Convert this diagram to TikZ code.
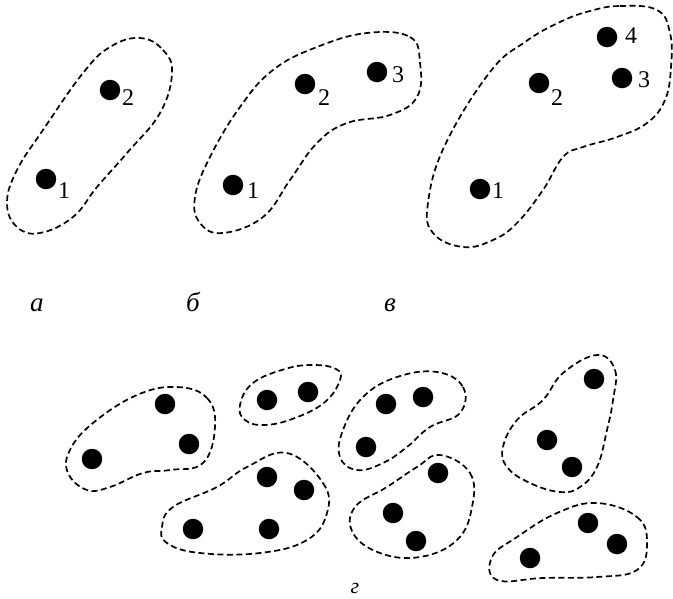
\documentclass[tikz,border=0pt]{standalone}
\usepackage{fontspec}
\setmainfont{Liberation Serif}
\begin{document}
\begin{tikzpicture}[x=1pt,y=-1pt,
  dot/.style={circle,fill=black,inner sep=0pt,minimum size=20.5pt},
  num/.style={anchor=base,inner sep=0pt,font=\fontsize{24}{24}\selectfont},
  captxt/.style={anchor=base,inner sep=0pt,font=\fontsize{27}{27}\selectfont\itshape},
  blob/.style={draw=black,line width=1.7pt,dash pattern=on 6pt off 3.5pt}]
\useasboundingbox (0,0) rectangle (673,598);
% a
\draw[blob] plot[smooth cycle,tension=0.7] coordinates {(140,38) (163,50) (172,73) (160,113) (127,153) (97,187) (73,217) (40,233) (17,227) (7,203) (17,170) (43,130) (83,73) (110,47)};
\node[dot] (a1) at (46,179) {};
\node[dot] (a2) at (110,90) {};
\node[num] (la1) at (64,198) {1};
\node[num] (la2) at (128,105) {2};
\node[captxt] (ca) at (37,311) {а};
% b
\draw[blob] plot[smooth cycle,tension=0.7] coordinates {(367,33) (410,37) (420,63) (417,97) (390,115) (347,123) (317,143) (290,180) (263,217) (223,233) (200,223) (195,197) (210,157) (240,107) (273,70) (317,47)};
\node[dot] (b1) at (233,185) {};
\node[dot] (b2) at (305,84) {};
\node[dot] (b3) at (377,72) {};
\node[num] (lb1) at (253,198) {1};
\node[num] (lb2) at (324,105) {2};
\node[num] (lb3) at (398,82) {3};
\node[captxt] (cb) at (193,311) {б};
% c
\draw[blob] plot[smooth cycle,tension=0.7] coordinates {(590,11) (620,6) (657,10) (670,33) (671,67) (665,100) (647,123) (617,137) (583,147) (563,157) (543,190) (517,223) (493,240) (463,247) (433,233) (428,203) (445,145) (490,72) (525,42) (560,22)};
\node[dot] (c1) at (480,189) {};
\node[dot] (c2) at (539,83) {};
\node[dot] (c3) at (622,78) {};
\node[dot] (c4) at (607,37) {};
\node[num] (lc1) at (498,198) {1};
\node[num] (lc2) at (557,105) {2};
\node[num] (lc3) at (644,87) {3};
\node[num] (lc4) at (631,43) {4};
\node[captxt] (cc) at (390,311) {в};
% g
\draw[blob] plot[smooth cycle,tension=0.7] coordinates {(177,387) (207,398) (215,427) (203,463) (170,470) (143,473) (110,487) (87,490) (68,473) (70,450) (93,423) (137,395)};
\node[dot] (g11) at (92,459) {};
\node[dot] (g12) at (165,404) {};
\node[dot] (g13) at (189,444) {};
\draw[blob] plot[smooth cycle,tension=0.7] coordinates {(240,405) (253,383) (285,369) (313,365) (336,369) (340,380) (325,402) (295,418) (265,425) (245,420)};
\node[dot] (g21) at (267,400) {};
\node[dot] (g22) at (308,392) {};
\draw[blob] plot[smooth cycle,tension=0.7] coordinates {(287,453) (323,483) (327,513) (307,540) (260,553) (200,553) (167,543) (162,527) (173,507) (217,487) (247,467)};
\node[dot] (g31) at (193,529) {};
\node[dot] (g32) at (267,477) {};
\node[dot] (g33) at (304,490) {};
\node[dot] (g34) at (269,529) {};
\draw[blob] plot[smooth cycle,tension=0.7] coordinates {(437,372) (463,387) (460,413) (430,427) (407,447) (383,463) (357,470) (340,457) (343,430) (363,397) (397,377)};
\node[dot] (g41) at (366,447) {};
\node[dot] (g42) at (386,404) {};
\node[dot] (g43) at (423,397) {};
\draw[blob] plot[smooth cycle,tension=0.7] coordinates {(440,455) (470,473) (472,507) (457,540) (420,557) (380,553) (353,533) (355,507) (387,487) (417,467)};
\node[dot] (g51) at (438,473) {};
\node[dot] (g52) at (393,513) {};
\node[dot] (g53) at (416,541) {};
\draw[blob] plot[smooth cycle,tension=0.7] coordinates {(597,355) (615,370) (613,400) (607,430) (597,467) (580,487) (560,492) (530,483) (507,467) (503,447) (517,420) (543,400) (563,373)};
\node[dot] (g61) at (594,379) {};
\node[dot] (g62) at (547,440) {};
\node[dot] (g63) at (572,467) {};
\draw[blob] plot[smooth cycle,tension=0.7] coordinates {(597,503) (637,517) (647,543) (637,570) (597,577) (543,578) (497,580) (492,557) (517,537) (557,513)};
\node[dot] (g71) at (530,558) {};
\node[dot] (g72) at (588,523) {};
\node[dot] (g73) at (617,544) {};
\node[captxt,font=\fontsize{22}{22}\selectfont\itshape] (cg) at (355,593) {г};
\end{tikzpicture}
\end{document}
